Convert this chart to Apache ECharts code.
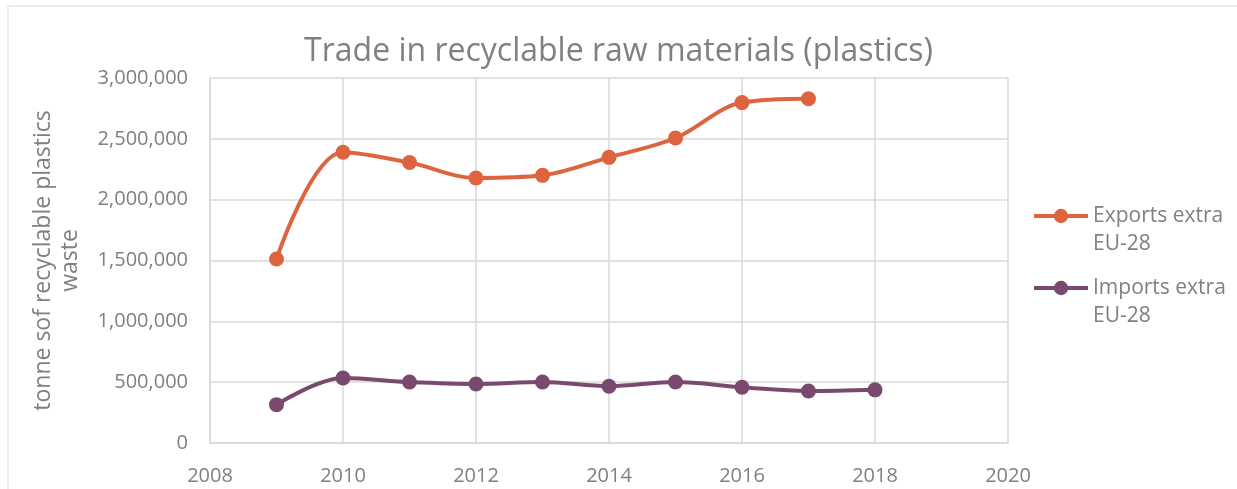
<!DOCTYPE html>
<html><head><meta charset="utf-8">
<script src="https://cdn.jsdelivr.net/npm/echarts@6/dist/echarts.min.js"></script>
<style>html,body{margin:0;padding:0;background:#fff}#c{width:1237px;height:489px}</style>
</head><body><div id="c"></div>
<script>
const years = [2009, 2010, 2011, 2012, 2013, 2014, 2015, 2016, 2017, 2018];
const exportsExtra = [1512000, 2390000, 2305000, 2178000, 2200000, 2348000, 2507000, 2798000, 2830000, null];
const importsExtra = [315000, 534000, 501000, 485000, 501000, 467000, 501000, 458000, 427000, 437000];
const seriesNames = ['Exports extra EU-28', 'Imports extra EU-28'];
const titleText = 'Trade in recyclable raw materials (plastics)';
const yAxisTitle = 'tonne sof recyclable plastics\nwaste';

const font = '"Open Sans", Lato, sans-serif';
const grey = '#808080';
const pair = (vals) => years.map((y, i) => [y, vals[i]]).filter(p => p[1] !== null);

const chart = echarts.init(document.getElementById('c'));
chart.setOption({
  animation: false,
  backgroundColor: '#fff',
  graphic: [{type: 'rect', shape: {x: 8, y: 6, width: 1300, height: 600}, style: {fill: 'none', stroke: '#d9d9d9', lineWidth: 1}, silent: true}],
  title: {text: titleText, left: 'center', top: 31, textStyle: {fontFamily: font, fontSize: 32, fontWeight: 'normal', color: grey}},
  grid: {left: 210, right: 229, top: 78, bottom: 46},
  legend: {
    orient: 'vertical', left: 1032, top: 174, padding: 0, itemGap: -12, itemWidth: 54, itemHeight: 18,
    lineStyle: {width: 4},
    textStyle: {fontFamily: font, fontSize: 21, color: grey, lineHeight: 28},
    formatter: (n) => ' \n' + n.replace(' EU-28', '\nEU-28'),
    data: seriesNames
  },
  xAxis: {
    type: 'value', min: 2008, max: 2020, interval: 2,
    axisLine: {show: true, lineStyle: {color: '#d9d9d9', width: 1.5}},
    axisTick: {show: false},
    splitLine: {show: true, lineStyle: {color: '#d9d9d9', width: 1.5}},
    axisLabel: {color: grey, fontFamily: font, fontSize: 20, margin: 23, formatter: (v) => String(v)}
  },
  yAxis: {
    type: 'value', min: 0, max: 3000000, interval: 500000,
    name: yAxisTitle, nameLocation: 'middle', nameGap: 126, nameRotate: 90,
    nameTextStyle: {color: grey, fontFamily: font, fontSize: 23, lineHeight: 27},
    axisLine: {show: true, lineStyle: {color: '#d9d9d9', width: 1.5}},
    axisTick: {show: false},
    splitLine: {show: true, lineStyle: {color: '#d9d9d9', width: 1.5}},
    axisLabel: {color: grey, fontFamily: font, fontSize: 20, margin: 22,
      formatter: (v) => v.toLocaleString('en-US')}
  },
  series: [
    {name: seriesNames[0], type: 'line', smooth: 0.35, data: pair(exportsExtra),
     symbol: 'circle', symbolSize: 15, itemStyle: {color: '#DE6440'}, lineStyle: {width: 4, color: '#DE6440'}},
    {name: seriesNames[1], type: 'line', smooth: 0.35, data: pair(importsExtra),
     symbol: 'circle', symbolSize: 15, itemStyle: {color: '#7A4A6E'}, lineStyle: {width: 4, color: '#7A4A6E'}}
  ]
});
</script></body></html>
